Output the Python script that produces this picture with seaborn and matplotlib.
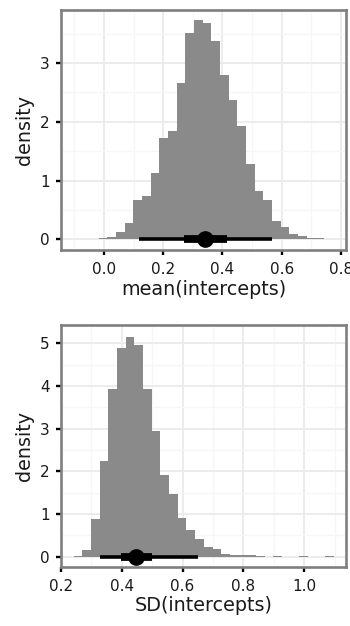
import numpy as np
import pandas as pd
import matplotlib
matplotlib.use("Agg")
import matplotlib.pyplot as plt
from matplotlib.ticker import MultipleLocator
import seaborn as sns

# ---------------- data ----------------
# panel 1: mean(intercepts)
mean_bin_start = -0.1056
mean_bin_width = 0.02924
mean_density = [0.005, 0.008, 0.012, 0.03, 0.04, 0.13, 0.28, 0.67, 0.74, 1.13,
                1.73, 1.84, 2.66, 3.51, 3.73, 3.68, 3.38, 2.80, 2.37, 1.93,
                1.29, 0.82, 0.67, 0.31, 0.21, 0.09, 0.05, 0.02, 0.02, 0.01]
mean_interval_95 = [0.117, 0.566]
mean_interval_66 = [0.270, 0.414]
mean_point = 0.342
mean_xticks = [0.0, 0.2, 0.4, 0.6, 0.8]
mean_xticklabels = ["0.0", "0.2", "0.4", "0.6", "0.8"]
mean_yticks = [0, 1, 2, 3]

# panel 2: SD(intercepts)
sd_bin_start = 0.242
sd_bin_width = 0.02853
sd_density = [0.02, 0.16, 0.88, 2.24, 3.92, 4.90, 5.15, 4.97, 3.92, 2.95,
              1.91, 1.48, 0.91, 0.62, 0.41, 0.23, 0.18, 0.06, 0.05, 0.03,
              0.03, 0.015, 0.0, 0.015, 0.0, 0.0, 0.015, 0.0, 0.0, 0.015]
sd_interval_95 = [0.328, 0.651]
sd_interval_66 = [0.397, 0.501]
sd_point = 0.446
sd_xticks = [0.2, 0.4, 0.6, 0.8, 1.0]
sd_xticklabels = ["0.2", "0.4", "0.6", "0.8", "1.0"]
sd_yticks = [0, 1, 2, 3, 4, 5]

# ---------------- style ----------------
sns.set_style("white")
plt.rcParams["font.family"] = ["DejaVu Sans"]

BAR = "#8a8a8a"
BORDER = "#7f7f7f"
TXT = "#1a1a1a"

W, H = 350, 626
fig = plt.figure(figsize=(W / 100, H / 100), dpi=100)


def px_axes(l, t, r, b):
    return fig.add_axes([l / W, 1 - b / H, (r - l) / W, (b - t) / H])


def panel(ax, start, width, dens, i95, i66, pt, xticks, xlabels, yticks,
          xlim, ylim, xlabel, xminor, yminor):
    n = len(dens)
    edges = [start + width * k for k in range(n + 1)]
    centers = [(edges[k] + edges[k + 1]) / 2 for k in range(n)]
    df = pd.DataFrame({"x": centers, "w": dens})
    sns.histplot(data=df, x="x", weights="w", bins=edges, stat="count",
                 color=BAR, alpha=1, linewidth=0, ax=ax, zorder=2)
    # point interval
    ax.plot(i95, [0, 0], color="black", lw=2.6, solid_capstyle="butt", zorder=4)
    ax.plot(i66, [0, 0], color="black", lw=5.6, solid_capstyle="butt", zorder=5)
    ax.plot([pt], [0], marker="o", ms=11, color="black", mec="black", zorder=6)

    ax.set_xlim(*xlim)
    ax.set_ylim(*ylim)
    ax.set_xticks(xticks)
    ax.set_xticklabels(xlabels)
    ax.set_yticks(yticks)
    ax.set_yticklabels([str(v) for v in yticks])
    ax.xaxis.set_minor_locator(MultipleLocator(xminor))
    ax.yaxis.set_minor_locator(MultipleLocator(yminor))
    ax.set_axisbelow(True)
    ax.grid(which="major", color="#ebebeb", lw=1.3, zorder=0)
    ax.grid(which="minor", color="#f6f6f6", lw=0.9, zorder=0)
    ax.tick_params(which="major", length=3.8, width=1.7, color="black",
                   labelsize=11, labelcolor=TXT, pad=4.5,
                   bottom=True, left=True, direction="out")
    ax.tick_params(which="minor", length=0)
    for s in ax.spines.values():
        s.set_color(BORDER)
        s.set_linewidth(1.9)
        s.set_zorder(7)
    ax.set_xlabel(xlabel, fontsize=13.8, color=TXT, labelpad=2)
    ax.set_ylabel("density", fontsize=13.8, color=TXT, labelpad=4)


ax1 = px_axes(61, 10, 346, 250.3)
panel(ax1, mean_bin_start, mean_bin_width, mean_density, mean_interval_95,
      mean_interval_66, mean_point, mean_xticks, mean_xticklabels, mean_yticks,
      (-0.1451, 0.8169), (-0.187, 3.902), "mean(intercepts)", 0.1, 0.5)

ax2 = px_axes(61, 325.3, 346, 567)
panel(ax2, sd_bin_start, sd_bin_width, sd_density, sd_interval_95,
      sd_interval_66, sd_point, sd_xticks, sd_xticklabels, sd_yticks,
      (0.2033, 1.1377), (-0.241, 5.423), "SD(intercepts)", 0.1, 0.5)

fig.savefig("out.png", dpi=100)
